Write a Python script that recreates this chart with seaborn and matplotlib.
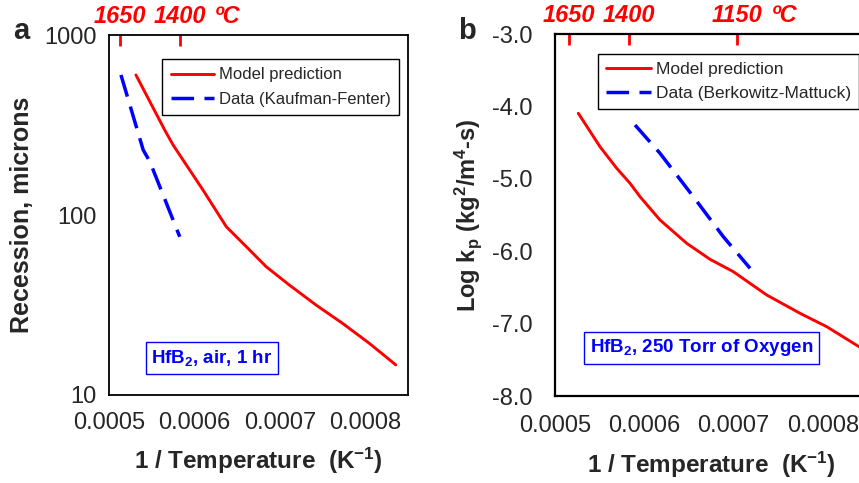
import numpy as np
import pandas as pd
import matplotlib.pyplot as plt
import seaborn as sns

# Style
sns.set_style("white")
plt.rcParams['font.family'] = ['Liberation Sans', 'DejaVu Sans']
plt.rcParams['mathtext.fontset'] = 'custom'
plt.rcParams['mathtext.rm'] = 'Liberation Sans'
plt.rcParams['mathtext.bf'] = 'Liberation Sans:bold'
plt.rcParams['mathtext.it'] = 'Liberation Sans:italic'
plt.rcParams['axes.edgecolor'] = 'black'

# Panel a: recession (microns), HfB2 in air, 1 hr
a_model_x = [0.0005315, 0.0005653, 0.000575, 0.0005867, 0.000610, 0.0006373,
             0.0006607, 0.000684, 0.0007112, 0.0007424, 0.0007734, 0.0008045, 0.0008357]
a_model_y = [600, 296, 245, 202, 137.7, 86.1, 66.7, 51.6, 40.8, 31.6, 25.0, 19.4, 14.7]
a_data_x = [0.000514, 0.000540, 0.0005478, 0.0005828]
a_data_y = [600, 230, 198, 75.7]

# Panel b: log kp, HfB2 in 250 Torr O2
b_model_x = [0.0005261, 0.0005504, 0.0005691, 0.000584, 0.0005952, 0.0006176, 0.0006475,
             0.0006736, 0.0006997, 0.0007371, 0.0007744, 0.0008043, 0.0008404, 0.00085]
b_model_y = [-4.095, -4.557, -4.855, -5.062, -5.247, -5.569, -5.891,
             -6.112, -6.283, -6.605, -6.858, -7.043, -7.319, -7.39]
b_data_x = [0.0005896, 0.0006176, 0.0006549, 0.0006885, 0.0007184]
b_data_y = [-4.257, -4.648, -5.247, -5.80, -6.236]

# Axis ticks
x_ticks = [0.0005, 0.0006, 0.0007, 0.0008]
x_labels = ["0.0005", "0.0006", "0.0007", "0.0008"]
a_y_ticks = [10, 100, 1000]
a_y_labels = ["10", "100", "1000"]
b_y_ticks = [-8, -7, -6, -5, -4, -3]
b_y_labels = ["-8.0", "-7.0", "-6.0", "-5.0", "-4.0", "-3.0"]

# Top temperature ticks (deg C)
a_top_ticks = [0.000513, 0.000583]
a_top_labels = ["1650", "1400"]
b_top_ticks = [0.0005157, 0.000583, 0.000704]
b_top_labels = ["1650", "1400", "1150"]

fig = plt.figure(figsize=(8.59, 4.83), dpi=100)
ax_a = fig.add_axes([0.1269, 0.1822, 0.3481, 0.7453])
ax_b = fig.add_axes([0.6461, 0.1801, 0.3639, 0.7495])

dash = (0, (6.5, 3))
xlabel = r"1 / Temperature  (K$^{\mathbf{-1}}$)"

# ---- panel a ----
ax_a.set_yscale('log')
sns.lineplot(x=a_model_x, y=a_model_y, ax=ax_a, color='red', lw=2.1, label='Model prediction')
sns.lineplot(x=a_data_x, y=a_data_y, ax=ax_a, color='blue', lw=2.5, linestyle=dash,
             label='Data (Kaufman-Fenter)')
ax_a.set_xlim(0.0005, 0.00085)
ax_a.set_ylim(10, 1000)
ax_a.set_xticks(x_ticks, labels=x_labels)
ax_a.set_yticks(a_y_ticks, labels=a_y_labels)
ax_a.yaxis.set_minor_formatter(plt.NullFormatter())
ax_a.tick_params(axis='both', which='major', direction='in', length=8, width=1.3,
                 labelsize=17, top=False, right=False)
ax_a.tick_params(axis='x', pad=12)
ax_a.tick_params(axis='y', pad=9)
ax_a.tick_params(axis='y', which='minor', direction='in', length=6, width=1.1, right=False)
ax_a.set_xlabel(xlabel, fontsize=17.5, fontweight='bold', labelpad=9)
ax_a.set_ylabel("Recession, microns", fontsize=18, fontweight='bold', labelpad=7)
for s in ax_a.spines.values():
    s.set_linewidth(1.3)
    s.set_color('black')

leg = ax_a.legend(loc='upper right', bbox_to_anchor=(0.97, 0.933), fontsize=12,
                  frameon=True, fancybox=False, edgecolor='black', framealpha=1,
                  handlelength=2.6, handletextpad=0.3, borderaxespad=0,
                  borderpad=0.5, labelspacing=0.55)
leg.get_frame().set_linewidth(1)

ax_a.text(0.344, 0.103, r"HfB$_\mathbf{2}$, air, 1 hr", transform=ax_a.transAxes,
          ha='center', va='center', color='blue', fontsize=13.5, fontweight='bold',
          bbox=dict(boxstyle='square,pad=0.3', fc='white', ec='blue', lw=1))

sec_a = ax_a.secondary_xaxis('top')
sec_a.set_xticks(a_top_ticks, labels=a_top_labels)
sec_a.tick_params(direction='in', length=8, width=2, colors='red', labelsize=17, pad=5)
sec_a.spines['top'].set_visible(False)
for lbl in sec_a.get_xticklabels():
    lbl.set_fontweight('bold')
    lbl.set_fontstyle('italic')
ax_a.annotate("ºC", xy=(a_top_ticks[-1], 1.0), xycoords=('data', 'axes fraction'),
              xytext=(25, 5), textcoords='offset points', ha='left', va='bottom',
              color='red', fontsize=17, fontweight='bold', fontstyle='italic')

fig.text(0.015, 0.935, "a", fontsize=21, fontweight='bold', ha='left', va='center')

# ---- panel b ----
sns.lineplot(x=b_model_x, y=b_model_y, ax=ax_b, color='red', lw=2.1, label='Model prediction')
sns.lineplot(x=b_data_x, y=b_data_y, ax=ax_b, color='blue', lw=2.5, linestyle=dash,
             label='Data (Berkowitz-Mattuck)')
ax_b.set_xlim(0.0005, 0.00085)
ax_b.set_ylim(-8, -3)
ax_b.set_xticks(x_ticks, labels=x_labels)
ax_b.set_yticks(b_y_ticks, labels=b_y_labels)
ax_b.tick_params(axis='both', direction='out', length=8, width=1.5, labelsize=17,
                 top=False, right=False)
ax_b.tick_params(axis='x', pad=6)
ax_b.tick_params(axis='y', pad=8)
ax_b.set_xlabel(xlabel, fontsize=17.5, fontweight='bold', labelpad=9)
ax_b.set_ylabel(r"Log k$_\mathbf{p}$ (kg$^\mathbf{2}$/m$^\mathbf{4}$-s)", fontsize=17,
                fontweight='bold', labelpad=6)
for s in ax_b.spines.values():
    s.set_linewidth(1.6)
    s.set_color('black')

leg = ax_b.legend(loc='upper left', bbox_to_anchor=(0.1376, 0.945), fontsize=12.5,
                  frameon=True, fancybox=False, edgecolor='black', framealpha=1,
                  handlelength=2.6, handletextpad=0.3, borderaxespad=0,
                  borderpad=0.45, labelspacing=0.5)
leg.get_frame().set_linewidth(1)

ax_b.text(0.469, 0.133, r"HfB$_\mathbf{2}$, 250 Torr of Oxygen", transform=ax_b.transAxes,
          ha='center', va='center', color='blue', fontsize=13.5, fontweight='bold',
          bbox=dict(boxstyle='square,pad=0.3', fc='white', ec='blue', lw=1))

sec_b = ax_b.secondary_xaxis('top')
sec_b.set_xticks(b_top_ticks, labels=b_top_labels)
sec_b.tick_params(direction='in', length=8, width=2, colors='red', labelsize=17, pad=5)
sec_b.spines['top'].set_visible(False)
for lbl in sec_b.get_xticklabels():
    lbl.set_fontweight('bold')
    lbl.set_fontstyle('italic')
ax_b.annotate("ºC", xy=(b_top_ticks[-1], 1.0), xycoords=('data', 'axes fraction'),
              xytext=(25, 5), textcoords='offset points', ha='left', va='bottom',
              color='red', fontsize=17, fontweight='bold', fontstyle='italic')

fig.text(0.533, 0.935, "b", fontsize=21, fontweight='bold', ha='left', va='center')

fig.savefig('out.png', dpi=100)
